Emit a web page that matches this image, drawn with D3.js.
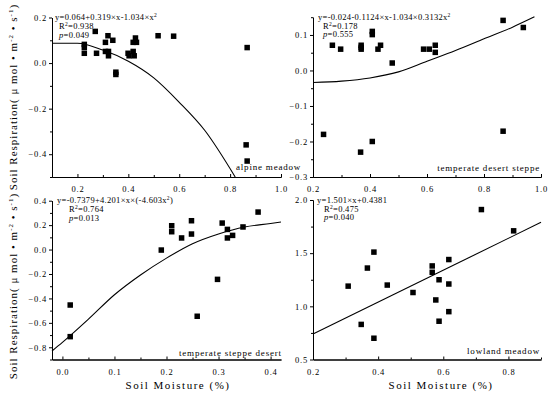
<!DOCTYPE html>
<html>
<head>
<meta charset="utf-8">
<script src="https://cdn.jsdelivr.net/npm/d3@7"></script>
<style>
  body { margin: 0; background: #fff; }
  text { font-family: "Liberation Serif", serif; fill: #000; }
</style>
</head>
<body>
<div id="container"></div>
<script>

/* DATA */
// alpine meadow
const alpineX = [0.227,0.227,0.227,0.27,0.275,0.31,0.32,0.31,0.322,0.322,0.339,0.351,0.351,0.399,0.403,0.419,0.428,0.432,0.419,0.423,0.517,0.578,0.867,0.863,0.867];
const alpineY = [0.082,0.069,0.043,0.139,0.043,0.091,0.12,0.051,0.051,0.032,0.1,-0.04,-0.05,0.043,0.032,0.091,0.11,0.091,0.051,0.032,0.12,0.118,0.068,-0.359,-0.43];
const alpineFitX = [0.1,0.2,0.3,0.4,0.5,0.6,0.7,0.82];
const alpineFitY = [0.087,0.087,0.057,0.008,-0.065,-0.172,-0.295,-0.5];
const alpineXTicks = [0.2,0.4,0.6,0.8,1.0];
const alpineYTicks = [0.2,0.0,-0.2,-0.4];

// temperate desert steppe
const desertSteppeX = [0.268,0.297,0.369,0.369,0.369,0.408,0.408,0.428,0.437,0.478,0.588,0.608,0.629,0.629,0.867,0.938,0.237,0.367,0.408,0.867];
const desertSteppeY = [0.071,0.06,0.071,0.065,0.06,0.11,0.101,0.06,0.071,0.021,0.06,0.06,0.071,0.051,0.141,0.121,-0.18,-0.23,-0.2,-0.171];
const desertSteppeFitX = [0.2,0.3,0.4,0.5,0.6,0.7,0.8,0.9,0.977];
const desertSteppeFitY = [-0.034,-0.03,-0.021,-0.004,0.026,0.056,0.089,0.122,0.151];
const desertSteppeXTicks = [0.2,0.4,0.6,0.8,1.0];
const desertSteppeYTicks = [0.1,0.0,-0.1,-0.2,-0.3];

// temperate steppe desert
const steppeDesertX = [0.015,0.015,0.19,0.21,0.21,0.229,0.248,0.248,0.259,0.298,0.307,0.317,0.317,0.327,0.347,0.376];
const steppeDesertY = [-0.454,-0.713,-0.004,0.195,0.146,0.095,0.236,0.127,-0.546,-0.244,0.217,0.165,0.095,0.116,0.185,0.307];
const steppeDesertFitX = [-0.02,0.0,0.05,0.1,0.15,0.2,0.25,0.3,0.35,0.4,0.42];
const steppeDesertFitY = [-0.83,-0.76,-0.57,-0.37,-0.208,-0.07,0.048,0.128,0.185,0.213,0.225];
const steppeDesertXTicks = [0.0,0.1,0.2,0.3,0.4];
const steppeDesertYTicks = [0.4,0.2,0.0,-0.2,-0.4,-0.6,-0.8];

// lowland meadow
const lowlandX = [0.308,0.348,0.367,0.387,0.387,0.428,0.507,0.566,0.566,0.577,0.587,0.587,0.617,0.617,0.617,0.717,0.816];
const lowlandY = [1.19,0.83,1.36,1.51,0.70,1.20,1.13,1.38,1.32,1.06,1.25,0.86,1.44,1.21,0.95,1.91,1.71];
const lowlandFitX = [0.2,0.9];
const lowlandFitY = [0.74,1.79];
const lowlandXTicks = [0.2,0.4,0.6,0.8];
const lowlandYTicks = [0.5,1.0,1.5,2.0];


/* CONSTANTS AND GLOBALS */
const width = 550, height = 396, size = 5.5;

const svg = d3.select("#container")
  .append("svg")
  .attr("width", width)
  .attr("height", height)
  .style("background-color", "#fff");

function panel(p) {
  const xScale = d3.scaleLinear().domain(p.xDomain).range([p.left, p.right]);
  const yScale = d3.scaleLinear().domain(p.yDomain).range([p.bottom, p.top]);
  const g = svg.append("g");

  // AXES
  g.append("g")
    .attr("transform", `translate(0,${p.bottom})`)
    .call(d3.axisBottom(xScale).tickValues(p.xTicks).tickSize(-3).tickSizeOuter(0)
      .tickPadding(9).tickFormat(d3.format(".1f")));
  g.append("g")
    .attr("transform", `translate(0,${p.bottom})`)
    .call(d3.axisBottom(xScale).tickValues(p.xMinor).tickSize(-2).tickSizeOuter(0).tickFormat(""));

  g.append("g")
    .attr("transform", `translate(${p.left},0)`)
    .call(d3.axisLeft(yScale).tickValues(p.yTicks).tickSize(3).tickSizeOuter(0)
      .tickPadding(2).tickFormat(d3.format(".1f")));
  g.append("g")
    .attr("transform", `translate(${p.left},0)`)
    .call(d3.axisLeft(yScale).tickValues(p.yMinor).tickSize(2).tickSizeOuter(0).tickFormat(""));

  g.selectAll(".domain, .tick line").attr("stroke", "#000").attr("stroke-width", 1);
  g.selectAll(".tick text")
    .style("font-family", "Liberation Serif")
    .style("font-size", "8.5px")
    .style("letter-spacing", "0.8px")
    .attr("fill", "#222");

  // FIT LINE
  const fit = p.fitX.map((x, i) => [x, p.fitY[i]]);
  g.append("path")
    .datum(fit)
    .attr("fill", "none")
    .attr("stroke", "#000")
    .attr("stroke-width", 1.1)
    .attr("d", d3.line()
      .curve(d3.curveMonotoneX)
      .x(d => xScale(d[0]))
      .y(d => yScale(d[1])));

  // POINTS
  g.selectAll("rect.pt")
    .data(p.x.map((x, i) => [x, p.y[i]]))
    .join("rect")
    .attr("class", "pt")
    .attr("x", d => xScale(d[0]) - size / 2)
    .attr("y", d => yScale(d[1]) - size / 2)
    .attr("width", size)
    .attr("height", size)
    .attr("fill", "#000");

  // EQUATION
  const eq = g.append("text")
    .attr("x", p.left + p.eqDx[0])
    .attr("y", p.top + 2.5)
    .style("font-size", "8.5px")
    .style("letter-spacing", "0.3px");
  eq.append("tspan").text(p.eq[0]);
  if (p.eq[1] !== undefined) {
    eq.append("tspan").attr("baseline-shift", "super").style("font-size", "5.5px").text("2");
    eq.append("tspan").text(p.eq[1]);
  }
  const r2 = g.append("text")
    .attr("x", p.left + p.eqDx[1])
    .attr("y", p.top + 11.5)
    .style("font-size", "8.5px")
    .style("letter-spacing", "0.3px");
  r2.append("tspan").text("R");
  r2.append("tspan").attr("baseline-shift", "super").style("font-size", "5.5px").text("2");
  r2.append("tspan").text("=" + p.r2);
  const pv = g.append("text")
    .attr("x", p.left + p.eqDx[1])
    .attr("y", p.top + 20)
    .style("font-size", "8.5px")
    .style("letter-spacing", "0.3px");
  pv.append("tspan").style("font-style", "italic").text("p");
  pv.append("tspan").text("=" + p.pv);

  // CATEGORY LABEL
  g.append("text")
    .attr("x", p.labelX)
    .attr("y", p.bottom - p.labelUp)
    .attr("text-anchor", p.labelAnchor)
    .style("font-size", "9px")
    .style("letter-spacing", "0.8px")
    .text(p.label);
}

panel({
  x: alpineX, y: alpineY, fitX: alpineFitX, fitY: alpineFitY,
  xTicks: alpineXTicks, yTicks: alpineYTicks,
  xMinor: [0.1,0.3,0.5,0.7,0.9], yMinor: [0.1,-0.1,-0.3,-0.5],
  xDomain: [0.1, 1.0], yDomain: [-0.5, 0.2],
  left: 52, right: 281, top: 17.5, bottom: 177,
  eq: ["y=0.064+0.319×x-1.034×x", ""], r2: "0.938", pv: "0.049", eqDx: [3, 7],
  label: "alpine meadow", labelX: 236, labelAnchor: "start", labelUp: 7
});

panel({
  x: desertSteppeX, y: desertSteppeY, fitX: desertSteppeFitX, fitY: desertSteppeFitY,
  xTicks: desertSteppeXTicks, yTicks: desertSteppeYTicks,
  xMinor: [0.3,0.5,0.7,0.9], yMinor: [0.15,0.05,-0.05,-0.15,-0.25],
  xDomain: [0.2, 1.0], yDomain: [-0.3, 0.15],
  left: 313, right: 541, top: 17.2, bottom: 177,
  eq: ["y=-0.024-0.1124×x-1.034×0.3132x", ""], r2: "0.178", pv: "0.555", eqDx: [5, 10],
  label: "temperate desert steppe", labelX: 540, labelAnchor: "end", labelUp: 6
});

panel({
  x: steppeDesertX, y: steppeDesertY, fitX: steppeDesertFitX, fitY: steppeDesertFitY,
  xTicks: steppeDesertXTicks, yTicks: steppeDesertYTicks,
  xMinor: [0.05,0.15,0.25,0.35], yMinor: [0.3,0.1,-0.1,-0.3,-0.5,-0.7,-0.9],
  xDomain: [-0.02, 0.42], yDomain: [-0.9, 0.4],
  left: 52, right: 281, top: 200.7, bottom: 359.5,
  eq: ["y=-0.7379+4.201×x×(-4.603x", ")"], r2: "0.764", pv: "0.013", eqDx: [5, 17],
  label: "temperate steppe desert", labelX: 179, labelAnchor: "start", labelUp: 4
});

panel({
  x: lowlandX, y: lowlandY, fitX: lowlandFitX, fitY: lowlandFitY,
  xTicks: lowlandXTicks, yTicks: lowlandYTicks,
  xMinor: [0.3,0.5,0.7,0.9], yMinor: [0.75,1.25,1.75],
  xDomain: [0.2, 0.9], yDomain: [0.5, 2.0],
  left: 313, right: 541, top: 200, bottom: 359.5,
  eq: ["y=1.501×x+0.4381"], r2: "0.475", pv: "0.040", eqDx: [4, 11],
  label: "lowland meadow", labelX: 540, labelAnchor: "end", labelUp: 6
});

// AXIS TITLES
[97, 286].forEach(cy => {
  const t = svg.append("text")
    .attr("transform", `translate(17,${cy}) rotate(-90)`)
    .attr("text-anchor", "middle")
    .style("font-size", "11px")
    .style("letter-spacing", "1px");
  t.append("tspan").text("Soil Respiration( μ mol • m");
  t.append("tspan").attr("baseline-shift", "super").style("font-size", "7px").text("-2");
  t.append("tspan").text(" • s");
  t.append("tspan").attr("baseline-shift", "super").style("font-size", "7px").text("-1");
  t.append("tspan").text(")");
});

[178, 441].forEach(cx => {
  svg.append("text")
    .attr("x", cx)
    .attr("y", 389)
    .attr("text-anchor", "middle")
    .style("font-size", "11px")
    .style("letter-spacing", "1.5px")
    .text("Soil Moisture (%)");
});

</script>
</body>
</html>
